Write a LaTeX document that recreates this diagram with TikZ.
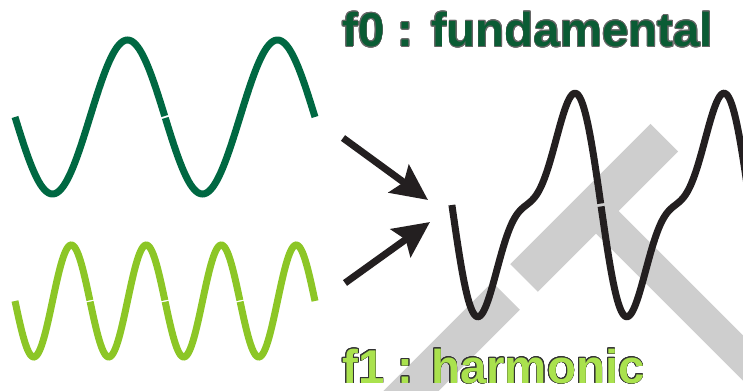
\documentclass[tikz,border=0pt]{standalone}
\usepackage{fontspec}
\setmainfont{Liberation Sans}
\usepackage[copies]{contour}
\contourlength{0.45pt}
\usetikzlibrary{arrows.meta}

\definecolor{fundgreen}{RGB}{0,104,66}
\definecolor{fundtext}{RGB}{10,92,52}
\definecolor{harmgreen}{RGB}{140,198,38}
\definecolor{harmtext}{RGB}{170,226,78}
\definecolor{sumblack}{RGB}{35,31,32}
\definecolor{bandgray}{RGB}{206,206,206}

\begin{document}
\begin{tikzpicture}[x=0.02cm, y=-0.02cm, >={Stealth[length=0.72cm, width=0.68cm, inset=0.12cm]},
  band/.style={bandgray, line width=0.78cm},
  wave/.style={line width=0.14cm},
  fundwave/.style={wave, fundgreen},
  harmwave/.style={wave, harmgreen},
  sumwave/.style={wave, sumblack},
  push/.style={->, line width=0.14cm, sumblack},
  label/.style={inner sep=0pt, anchor=base west, font=\fontsize{27}{30}\selectfont\bfseries}]
  \useasboundingbox (0,0) rectangle (743,391);
  \clip (0,0) rectangle (743,391);

  % grey bands behind the sum
  \draw[band] (372,430) -- (506,296);
  \draw[band] (524,278) -- (664.25,137.75);
  \draw[band, line width=0.64cm] (593.5,208.5) -- (800,415);

  % f0 and f1
  \foreach \a/\b in {0/359.3, 360.7/720}
    \draw[fundwave] plot[domain=\a:\b, samples=90, variable=\t] ({15+\t/360*150}, {117+77*sin(\t)});
  \foreach \a/\b in {0/359.3, 360.7/719.3, 720.7/1079.3, 1080.7/1440}
    \draw[harmwave] plot[domain=\a:\b, samples=60, variable=\t] ({15+\t/360*75}, {301+56*sin(\t)});

  % f0 + f1
  \foreach \a/\b in {-180/179.5, 180.5/570}
    \draw[sumwave] plot[domain=\a:\b, samples=160, variable=\t] ({575+(\t-117.4)/360*149}, {205-92*(sin(\t)-0.4*sin(2*\t))});

  \coordinate (fundtail) at (343,138);
  \coordinate (fundtip) at (428,200);
  \coordinate (harmtail) at (345,283);
  \coordinate (harmtip) at (430,222);
  \draw[push] (fundtail) -- (fundtip);
  \draw[push] (harmtail) -- (harmtip);

  \node[label, text=fundtext] (fundlabel) at (342,46.5) {\contour{black!60}{f0 : fundamental}};
  \node[label, text=harmtext] (harmlabel) at (342,383) {\contour{black!80}{f1 : harmonic}};
\end{tikzpicture}
\end{document}
